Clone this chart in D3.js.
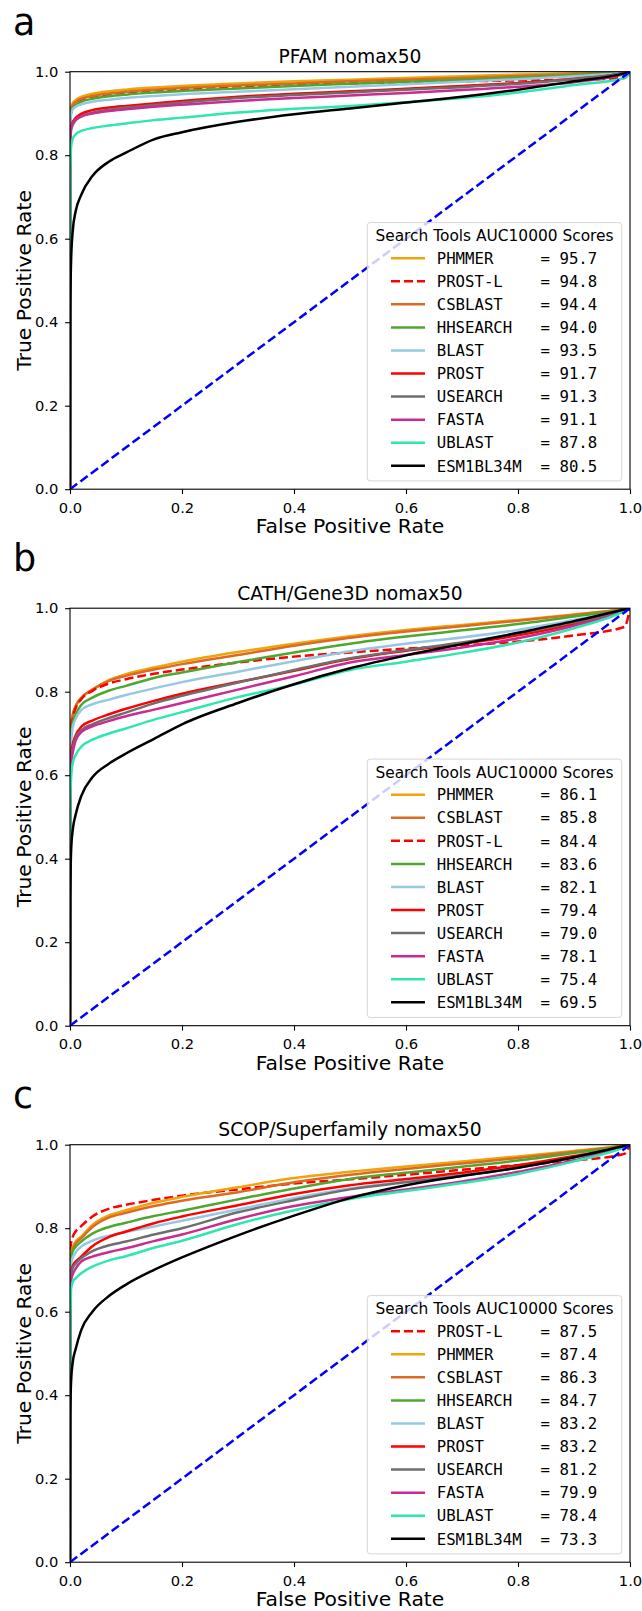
<!DOCTYPE html>
<html>
<head>
<meta charset="utf-8">
<script src="https://cdn.jsdelivr.net/npm/d3@7"></script>
<style>
  body { margin: 0; background: #fff; }
  svg text { font-family: "DejaVu Sans", sans-serif; fill: #000; }
  .mono { font-family: "DejaVu Sans Mono", monospace; }
</style>
</head>
<body>
<div id="chart"></div>
<script>
// ---- data ----
var fprGrid = [0, 0.0005, 0.002, 0.005, 0.01, 0.02, 0.04, 0.07, 0.1, 0.15, 0.2, 0.3, 0.4, 0.5, 0.6, 0.7, 0.8, 0.9, 0.99, 1];
var tickValues = [0, 0.2, 0.4, 0.6, 0.8, 1.0];

// PFAM
var pfamTools = ['PHMMER', 'PROST-L', 'CSBLAST', 'HHSEARCH', 'BLAST', 'PROST', 'USEARCH', 'FASTA', 'UBLAST', 'ESM1BL34M'];
var pfamAuc = [95.7, 94.8, 94.4, 94.0, 93.5, 91.7, 91.3, 91.1, 87.8, 80.5];
var pfamTpr = [
    [0, .895, .915, .925, .932, .940, .947, .953, .957, .962, .966, .972, .977, .981, .985, .989, .993, .996, .999, 1],
    [0, .880, .905, .917, .925, .933, .940, .946, .950, .955, .959, .965, .969, .972, .975, .977, .979, .981, .985, 1],
    [0, .890, .910, .920, .927, .935, .942, .948, .952, .957, .961, .967, .972, .977, .981, .985, .990, .994, .999, 1],
    [0, .860, .900, .913, .920, .928, .935, .941, .945, .950, .954, .960, .966, .971, .976, .981, .986, .992, .999, 1],
    [0, .870, .900, .910, .916, .922, .928, .933, .937, .942, .946, .952, .958, .964, .970, .976, .982, .989, .998, 1],
    [0, .840, .868, .880, .889, .899, .908, .914, .918, .924, .930, .940, .947, .953, .959, .966, .973, .983, .997, 1],
    [0, .830, .860, .873, .883, .893, .902, .909, .914, .920, .926, .937, .944, .950, .957, .963, .971, .982, .997, 1],
    [0, .840, .865, .877, .885, .893, .900, .906, .910, .916, .921, .930, .937, .943, .949, .956, .964, .975, .995, 1],
    [0, .760, .820, .840, .850, .858, .865, .871, .876, .884, .890, .902, .911, .918, .927, .937, .950, .968, .985, 1],
    [0, .420, .550, .620, .665, .705, .750, .785, .806, .838, .855, .880, .898, .912, .926, .940, .957, .977, .996, 1]
];

// CATH/Gene3D
var cathTools = ['PHMMER', 'CSBLAST', 'PROST-L', 'HHSEARCH', 'BLAST', 'PROST', 'USEARCH', 'FASTA', 'UBLAST', 'ESM1BL34M'];
var cathAuc = [86.1, 85.8, 84.4, 83.6, 82.1, 79.4, 79.0, 78.1, 75.4, 69.5];
var cathTpr = [
    [0, .660, .720, .745, .765, .785, .805, .828, .842, .858, .872, .895, .915, .933, .948, .960, .972, .985, .998, 1],
    [0, .660, .720, .745, .765, .785, .805, .826, .838, .853, .866, .888, .910, .929, .944, .957, .970, .984, .998, 1],
    [0, .620, .700, .735, .760, .782, .802, .820, .830, .843, .853, .870, .884, .894, .903, .911, .920, .935, .955, 1],
    [0, .640, .700, .725, .745, .768, .786, .803, .814, .833, .846, .871, .894, .915, .932, .947, .962, .980, .997, 1],
    [0, .620, .685, .715, .735, .756, .770, .781, .792, .808, .823, .848, .873, .897, .915, .930, .948, .972, .996, 1],
    [0, .580, .650, .675, .695, .716, .731, .746, .759, .778, .795, .823, .850, .878, .898, .915, .935, .962, .995, 1],
    [0, .570, .640, .665, .690, .708, .722, .737, .750, .772, .790, .822, .852, .880, .900, .918, .940, .966, .995, 1],
    [0, .560, .625, .655, .683, .703, .717, .730, .741, .757, .773, .805, .837, .870, .888, .906, .928, .958, .994, 1],
    [0, .520, .595, .630, .648, .668, .685, .700, .712, .733, .751, .787, .817, .852, .872, .893, .918, .952, .993, 1],
    [0, .300, .420, .470, .505, .550, .595, .628, .652, .687, .722, .773, .818, .856, .887, .914, .941, .969, .997, 1]
];

// SCOP/Superfamily
var scopTools = ['PROST-L', 'PHMMER', 'CSBLAST', 'HHSEARCH', 'BLAST', 'PROST', 'USEARCH', 'FASTA', 'UBLAST', 'ESM1BL34M'];
var scopAuc = [87.5, 87.4, 86.3, 84.7, 83.2, 83.2, 81.2, 79.9, 78.4, 73.3];
var scopTpr = [
    [0, .700, .765, .780, .792, .805, .828, .847, .856, .868, .878, .893, .907, .917, .928, .940, .951, .962, .978, 1],
    [0, .680, .740, .755, .768, .780, .808, .831, .843, .861, .875, .898, .920, .935, .948, .960, .972, .985, .998, 1],
    [0, .670, .735, .750, .763, .776, .803, .826, .837, .853, .866, .886, .910, .928, .942, .955, .968, .983, .998, 1],
    [0, .660, .730, .745, .755, .768, .787, .803, .813, .829, .842, .869, .895, .918, .933, .947, .962, .980, .997, 1],
    [0, .640, .715, .730, .742, .756, .770, .782, .791, .804, .818, .845, .872, .895, .912, .928, .946, .970, .996, 1],
    [0, .620, .695, .710, .720, .732, .757, .779, .792, .812, .828, .855, .882, .903, .918, .933, .951, .973, .996, 1],
    [0, .610, .690, .705, .715, .728, .745, .759, .768, .785, .800, .838, .867, .893, .910, .926, .945, .969, .996, 1],
    [0, .600, .675, .690, .703, .720, .732, .743, .752, .769, .785, .822, .853, .875, .893, .912, .935, .962, .995, 1],
    [0, .570, .655, .672, .680, .692, .708, .723, .733, .753, .770, .810, .843, .870, .889, .908, .930, .960, .994, 1],
    [0, .350, .435, .480, .510, .556, .600, .638, .665, .700, .730, .783, .830, .872, .903, .925, .945, .970, .997, 1]
];

var toolColors = {
    'PHMMER': '#f0a30a',
    'PROST-L': '#ff0000',
    'CSBLAST': '#dc6a22',
    'HHSEARCH': '#4ea72e',
    'BLAST': '#95c8e2',
    'PROST': '#ff0000',
    'USEARCH': '#6e6e6e',
    'FASTA': '#cc2a93',
    'UBLAST': '#2de6b0',
    'ESM1BL34M': '#000000'
};

// ---- layout ----
var svgWidth = 642;
var svgHeight = 1611;
var plotLeft = 70;
var plotWidth = 560;
var plotHeight = 417.5;
var panelTops = [71.7, 608.2, 1144.7];

var svg = d3.select('#chart')
    .append('svg')
    .attr('width', svgWidth)
    .attr('height', svgHeight);

svg.append('rect')
    .attr('width', svgWidth)
    .attr('height', svgHeight)
    .attr('fill', '#fff');

var xScale = d3.scaleLinear()
    .domain([0, 1])
    .range([0, plotWidth]);

var panels = [
    { letter: 'a', title: 'PFAM nomax50', tools: pfamTools, auc: pfamAuc, tpr: pfamTpr },
    { letter: 'b', title: 'CATH/Gene3D nomax50', tools: cathTools, auc: cathAuc, tpr: cathTpr },
    { letter: 'c', title: 'SCOP/Superfamily nomax50', tools: scopTools, auc: scopAuc, tpr: scopTpr }
];

panels.forEach(function(panel, i) {
    drawPanel(panel, panelTops[i], i);
});

function drawPanel(panel, top, idx) {
    var g = svg.append('g')
        .attr('transform', `translate(${plotLeft}, ${top})`);

    var yScale = d3.scaleLinear()
        .domain([0, 1])
        .range([plotHeight, 0]);

    // clip lines to the axes box
    var clipId = 'clip' + idx;
    g.append('clipPath')
        .attr('id', clipId)
        .append('rect')
        .attr('width', plotWidth)
        .attr('height', plotHeight);

    var lineGen = d3.line()
        .x(d => xScale(d[0]))
        .y(d => yScale(d[1]))
        .curve(d3.curveMonotoneX);

    var lines = g.append('g')
        .attr('clip-path', `url(#${clipId})`);

    panel.tools.forEach(function(tool, k) {
        var pts = fprGrid.map((f, j) => [f, panel.tpr[k][j]]);
        lines.append('path')
            .datum(pts)
            .attr('d', lineGen)
            .attr('fill', 'none')
            .attr('stroke', toolColors[tool])
            .attr('stroke-width', 2.5)
            .attr('stroke-linejoin', 'round')
            .attr('stroke-dasharray', tool === 'PROST-L' ? '9,4' : null);
    });

    // random-guess diagonal
    lines.append('path')
        .datum([[0, 0], [1, 1]])
        .attr('d', d3.line().x(d => xScale(d[0])).y(d => yScale(d[1])))
        .attr('fill', 'none')
        .attr('stroke', '#0000ff')
        .attr('stroke-width', 2.5)
        .attr('stroke-dasharray', '9,4');

    // axes
    var xAxis = g.append('g')
        .attr('transform', `translate(0, ${plotHeight})`)
        .call(d3.axisBottom(xScale).tickValues(tickValues).tickFormat(d3.format('.1f')).tickSize(4.9).tickSizeOuter(0));
    xAxis.selectAll('text')
        .attr('y', 23.4)
        .attr('dy', 0)
        .style('font-size', '14.7px');

    var yAxis = g.append('g')
        .call(d3.axisLeft(yScale).tickValues(tickValues).tickFormat(d3.format('.1f')).tickSize(4.9).tickSizeOuter(0));
    yAxis.selectAll('text')
        .attr('x', -11.7)
        .style('font-size', '14.7px');

    [xAxis, yAxis].forEach(function(ax) {
        ax.select('.domain').remove();
        ax.attr('font-family', null).attr('font-size', null);
        ax.selectAll('line').attr('stroke', '#000').attr('stroke-width', 1.1);
    });

    // spines
    g.append('rect')
        .attr('width', plotWidth)
        .attr('height', plotHeight)
        .attr('fill', 'none')
        .attr('stroke', '#000')
        .attr('stroke-width', 1.1);

    // labels
    g.append('text')
        .attr('x', plotWidth / 2)
        .attr('y', -8.4)
        .attr('text-anchor', 'middle')
        .style('font-size', '18.7px')
        .text(panel.title);

    g.append('text')
        .attr('x', plotWidth / 2)
        .attr('y', plotHeight + 44)
        .attr('text-anchor', 'middle')
        .style('font-size', '20.3px')
        .text('False Positive Rate');

    g.append('text')
        .attr('transform', `translate(${30.5 - plotLeft}, ${plotHeight / 2}) rotate(-90)`)
        .attr('text-anchor', 'middle')
        .style('font-size', '20.3px')
        .text('True Positive Rate');

    // panel letter
    g.append('text')
        .attr('x', 13 - plotLeft)
        .attr('y', -37)
        .style('font-size', '36.5px')
        .text(panel.letter);

    // legend
    var legW = 254.4;
    var legH = 258.3;
    var leg = g.append('g')
        .attr('transform', `translate(${plotWidth - 8.3 - legW}, ${plotHeight - 8.3 - legH})`);

    leg.append('rect')
        .attr('width', legW)
        .attr('height', legH)
        .attr('rx', 3)
        .attr('fill', '#fff')
        .attr('fill-opacity', 0.8)
        .attr('stroke', '#d6d6d6')
        .attr('stroke-width', 1);

    leg.append('text')
        .attr('x', legW / 2)
        .attr('y', 18.8)
        .attr('text-anchor', 'middle')
        .style('font-size', '15.4px')
        .text('Search Tools AUC10000 Scores');

    panel.tools.forEach(function(tool, k) {
        var cy = 35.6 + k * 23.07;
        leg.append('line')
            .attr('x1', 23.7)
            .attr('x2', 57.7)
            .attr('y1', cy)
            .attr('y2', cy)
            .attr('stroke', toolColors[tool])
            .attr('stroke-width', 2.5)
            .attr('stroke-dasharray', tool === 'PROST-L' ? '9,4' : null);
        leg.append('text')
            .attr('class', 'mono')
            .attr('x', 69.4)
            .attr('y', cy + 5.7)
            .attr('xml:space', 'preserve')
            .style('white-space', 'pre')
            .style('font-size', '15.7px')
            .text(tool.padEnd(11) + '= ' + panel.auc[k].toFixed(1));
    });
}
</script>
</body>
</html>
